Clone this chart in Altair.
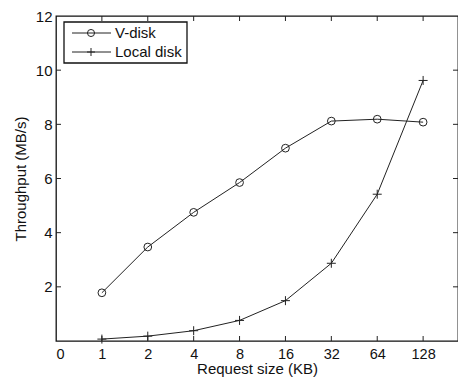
import altair as alt
import pandas as pd

# ---- data ----
tick_labels = ["0", "1", "2", "4", "8", "16", "32", "64", "128"]
request_sizes = ["1", "2", "4", "8", "16", "32", "64", "128"]
vdisk = [1.78, 3.47, 4.75, 5.85, 7.12, 8.12, 8.19, 8.08]
local_disk = [0.07, 0.18, 0.38, 0.76, 1.49, 2.87, 5.42, 9.62]
y_ticks = [2, 4, 6, 8, 10, 12]
series_names = ["V-disk", "Local disk"]

W, H = 402, 325
FONT = "Liberation Sans"
X_MAX = 8.76

pos = list(range(1, len(request_sizes) + 1))
df = pd.DataFrame({
    "pos": pos * 2,
    "size": request_sizes * 2,
    "value": vdisk + local_disk,
    "series": [series_names[0]] * len(pos) + [series_names[1]] * len(pos),
})
df_v = df[df.series == "V-disk"]
df_l = df[df.series == "Local disk"]

label_expr = "[" + ",".join('"%s"' % t for t in tick_labels) + "][datum.value]"

xs = alt.Scale(domain=[0, X_MAX], nice=False, zero=False)
ys = alt.Scale(domain=[0, 12], nice=False)

x_axis = alt.Axis(values=list(range(len(tick_labels))), labelExpr=label_expr,
                  ticks=False, domain=False, grid=False, labelPadding=6,
                  labelFontSize=14.5, title="Request size (KB)", titlePadding=1)
y_axis = alt.Axis(values=y_ticks, ticks=False, domain=False, grid=False,
                  labelPadding=4, title="Throughput (MB/s)", titlePadding=7)

PLUS = "M-1,0L1,0M0,-1L0,1"

line_v = alt.Chart(df_v).mark_line(color="#222", strokeWidth=1).encode(
    x=alt.X("pos:Q", scale=xs, axis=x_axis),
    y=alt.Y("value:Q", scale=ys, axis=y_axis),
)
pts_v = alt.Chart(df_v).mark_point(shape="circle", size=60, filled=False,
                                   color="#222", strokeWidth=1, opacity=1).encode(
    x=alt.X("pos:Q", scale=xs), y=alt.Y("value:Q", scale=ys))
line_l = alt.Chart(df_l).mark_line(color="#222", strokeWidth=1).encode(
    x=alt.X("pos:Q", scale=xs), y=alt.Y("value:Q", scale=ys))
pts_l = alt.Chart(df_l).mark_point(shape=PLUS, size=81, filled=False,
                                   color="#222", strokeWidth=1, opacity=1).encode(
    x=alt.X("pos:Q", scale=xs), y=alt.Y("value:Q", scale=ys))

# inward ticks
xt = pd.DataFrame({"t": list(range(1, len(tick_labels)))})
yt = pd.DataFrame({"t": y_ticks[:-1]})
tb = alt.Chart(xt).mark_rule(color="#222", strokeWidth=1).encode(
    x=alt.X("t:Q", scale=xs), y=alt.value(H), y2=alt.value(H - 5))
tt = alt.Chart(xt).mark_rule(color="#222", strokeWidth=1).encode(
    x=alt.X("t:Q", scale=xs), y=alt.value(0), y2=alt.value(5))
tl = alt.Chart(yt).mark_rule(color="#222", strokeWidth=1).encode(
    y=alt.Y("t:Q", scale=ys), x=alt.value(0), x2=alt.value(5))
tr = alt.Chart(yt).mark_rule(color="#222", strokeWidth=1).encode(
    y=alt.Y("t:Q", scale=ys), x=alt.value(W), x2=alt.value(W - 5))

# legend
one = pd.DataFrame({"a": [0]})
box = alt.Chart(one).mark_rect(fill="white", stroke="#111", strokeWidth=1.3).encode(
    x=alt.value(8), x2=alt.value(131), y=alt.value(6), y2=alt.value(47))
leg = [box]
for i, (name, shp, sz) in enumerate([(series_names[0], "circle", 50),
                                     (series_names[1], PLUS, 64)]):
    yy = 17 + i * 19
    leg.append(alt.Chart(one).mark_rule(color="#222", strokeWidth=1).encode(
        x=alt.value(16), x2=alt.value(55), y=alt.value(yy)))
    leg.append(alt.Chart(one).mark_point(shape=shp, size=sz, filled=False,
                                         color="#222", strokeWidth=1, opacity=1).encode(
        x=alt.value(35), y=alt.value(yy)))
    leg.append(alt.Chart(one).mark_text(text=name, align="left", baseline="middle",
                                        font=FONT, fontSize=15, color="#111").encode(
        x=alt.value(59), y=alt.value(yy)))

chart = alt.layer(tb, tt, tl, tr, line_v, pts_v, line_l, pts_l, *leg).properties(
    width=W, height=H,
    autosize=alt.AutoSizeParams(type="none"),
    padding={"left": 48, "top": 8, "right": 0, "bottom": 37},
    background="white",
).configure_view(stroke="#111", strokeWidth=1.3).configure_axis(
    labelFont=FONT, titleFont=FONT, labelFontSize=15, titleFontSize=15,
    labelColor="#111", titleColor="#111", titleFontWeight="normal",
)

chart.save("out.html", embed_options={"renderer": "svg", "actions": False})
